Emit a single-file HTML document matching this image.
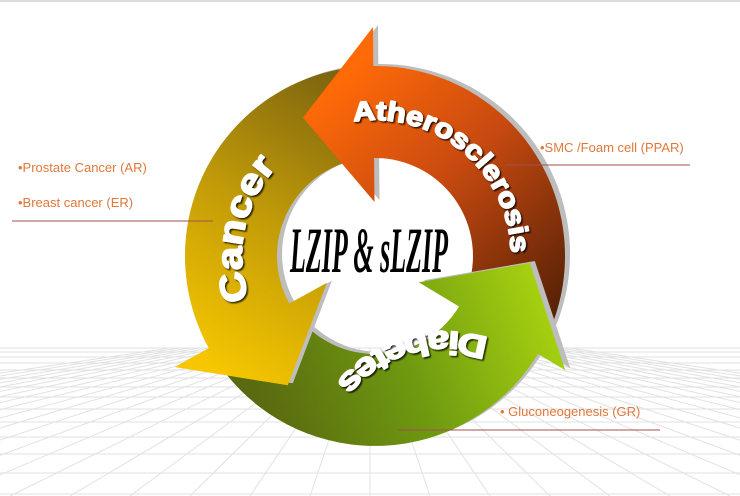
<!DOCTYPE html>
<html><head><meta charset="utf-8">
<style>
html,body{margin:0;padding:0;background:#fff;}
svg{display:block;}
.lbl{font-family:"Liberation Sans",sans-serif;font-size:13px;fill:#e0783a;}
.rt{font-family:"Liberation Sans",sans-serif;font-weight:bold;fill:#fff;stroke:#fff;stroke-width:1.6;stroke-linejoin:round;}
</style></head>
<body>
<svg id="s" width="740" height="496" viewBox="0 0 740 496" xmlns="http://www.w3.org/2000/svg">
<defs>
<linearGradient id="gA" gradientUnits="userSpaceOnUse" x1="330" y1="90" x2="540" y2="320">
<stop offset="0" stop-color="#ff6a08"/><stop offset="0.45" stop-color="#c84a10"/><stop offset="1" stop-color="#5a2206"/></linearGradient>
<linearGradient id="gC" gradientUnits="userSpaceOnUse" x1="370" y1="90" x2="200" y2="360">
<stop offset="0" stop-color="#7a6210"/><stop offset="0.5" stop-color="#c09a08"/><stop offset="1" stop-color="#f6c600"/></linearGradient>
<linearGradient id="gD" gradientUnits="userSpaceOnUse" x1="260" y1="400" x2="540" y2="290">
<stop offset="0" stop-color="#5a6a10"/><stop offset="0.5" stop-color="#6f9a10"/><stop offset="1" stop-color="#a6d010"/></linearGradient>
<filter id="sh" x="-10%" y="-10%" width="120%" height="120%"><feDropShadow dx="1.5" dy="1.5" stdDeviation="0.8" flood-color="#000" flood-opacity="0.8"/></filter>
</defs>
<line x1="0" y1="1" x2="740" y2="1" stroke="#ddd" stroke-width="2"/>
<g id="grid" stroke="#e2e2e2" stroke-width="1" fill="none"></g>
<g id="ring"></g>
<g id="txt"></g>
<text x="369" y="203" text-anchor="middle" transform="scale(1,1.34)" font-family="Liberation Serif,serif" font-style="italic" font-weight="bold" font-size="48" textLength="158" lengthAdjust="spacingAndGlyphs" fill="#000">LZIP &amp; sLZIP</text>

<text class="lbl" x="18" y="172">•Prostate Cancer (AR)</text>
<text class="lbl" x="18" y="207">•Breast cancer (ER)</text>
<line x1="12" y1="221" x2="213" y2="221" stroke="#a05050" stroke-width="1"/>
<text class="lbl" x="540" y="152">•SMC /Foam cell (PPAR)</text>
<line x1="505" y1="165" x2="690" y2="165" stroke="#a05050" stroke-width="1"/>
<text class="lbl" x="500" y="416">• Gluconeogenesis (GR)</text>
<line x1="398" y1="430" x2="660" y2="430" stroke="#a05050" stroke-width="1"/>
</svg>
<script>
var NS="http://www.w3.org/2000/svg",cx=375,cy=256,RO=190,RI=98;
function P(r,t){t=t*Math.PI/180;return [cx+r*Math.cos(t),cy+r*Math.sin(t)];}
function f(p){return p[0].toFixed(1)+" "+p[1].toFixed(1);}
function arrow(tail,base,tip,ro,ri,rt){
 var a=P(RO,tail),b=P(RO,base),c=P(ro,base),d=P(rt,tip),e=P(ri,base),g=P(RI,base),h=P(RI,tail);
 return "M"+f(a)+" A"+RO+" "+RO+" 0 0 0 "+f(b)+" L"+f(c)+" L"+f(d)+" L"+f(e)+" L"+f(g)+" A"+RI+" "+RI+" 0 0 1 "+f(h)+"Z";
}
function body(t1,t2){
 return "M"+f(P(RO,t1))+" A"+RO+" "+RO+" 0 0 0 "+f(P(RO,t2))+" L"+f(P(RI,t2))+" A"+RI+" "+RI+" 0 0 1 "+f(P(RI,t1))+"Z";
}
var ring=document.getElementById("ring");
function add(d,fill){
 var s=document.createElementNS(NS,"path");s.setAttribute("d",d);s.setAttribute("fill","#bdbdbd");s.setAttribute("transform","translate(5,-2)");ring.appendChild(s);
 var p=document.createElementNS(NS,"path");p.setAttribute("d",d);p.setAttribute("fill",fill);ring.appendChild(p);
}
add(body(148,40),"url(#gD)");
add(arrow(-95,-209,-236,229,55,156),"url(#gC)");
add(arrow(25,-90.5,-117.5,229,54,156),"url(#gA)");
add(arrow(45,31,2.6,222,51,155),"url(#gD)");
var defs=document.querySelector("defs"),txt=document.getElementById("txt");
function tp(id,r,t1,t2,sweep,str,fs,len){
 var p=document.createElementNS(NS,"path");
 p.setAttribute("id",id);
 p.setAttribute("d","M"+f(P(r,t1))+" A"+r+" "+r+" 0 0 "+sweep+" "+f(P(r,t2)));
 defs.appendChild(p);
 var t=document.createElementNS(NS,"text");t.setAttribute("class","rt");t.setAttribute("font-size",fs);t.setAttribute("filter","url(#sh)");
 var q=document.createElementNS(NS,"textPath");q.setAttribute("href","#"+id);q.setAttributeNS("http://www.w3.org/1999/xlink","xlink:href","#"+id);
 q.setAttribute("textLength",len);q.setAttribute("lengthAdjust","spacingAndGlyphs");q.textContent=str;
 t.appendChild(q);txt.appendChild(t);
}
tp("pa",136,-99,2,1,"Atherosclerosis",27,232);
tp("pc",133,161,224,1,"Cancer",36,142);
tp("pd",140,36,108,0,"Diabetes",32,168);
var g=document.getElementById("grid"),h="";
var ys=[348,352,357,363,370,378,387,397,409,422,437,454,473,494];
ys.forEach(function(y){h+="M0 "+y+" L740 "+y+" ";});
for(var i=-20;i<=20;i++){var x=370+i*60;h+="M"+(370+i*10)+" 348 L"+x+" 496 ";}
var pp=document.createElementNS(NS,"path");pp.setAttribute("d",h);g.appendChild(pp);
</script>
</body></html>
